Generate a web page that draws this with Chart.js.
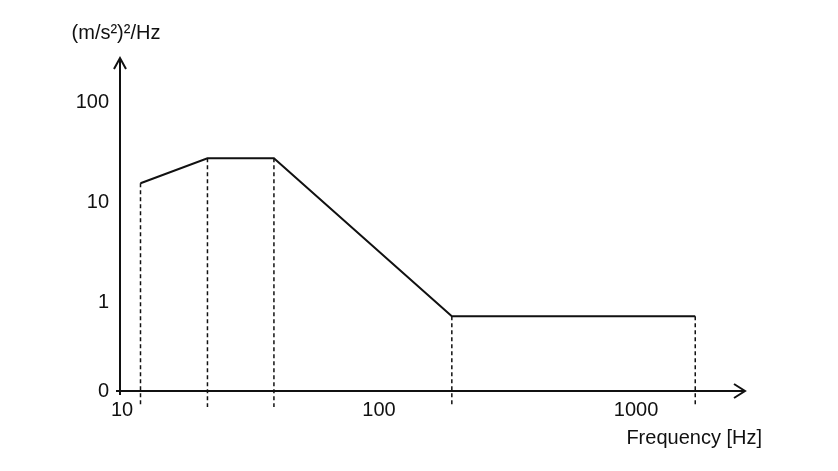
<!DOCTYPE html>
<html>
<head>
<meta charset="utf-8">
<script src="https://cdn.jsdelivr.net/npm/chart.js@4"></script>
<style>
  html, body { margin: 0; padding: 0; background: #fff; }
  canvas { display: block; }
</style>
</head>
<body>
<canvas id="psdChart" width="838" height="471"></canvas>
<script>
// --- data ---
const freqs = [11.8, 21.5, 39, 192, 1700];       // Hz, breakpoints
const psd = [15.4, 27.4, 27.4, 0.72, 0.72];      // (m/s²)²/Hz
const xTicks = [10, 100, 1000];
const yTicks = [1, 10, 100];
const yAxisLabel = '(m/s²)²/Hz';
const xAxisLabel = 'Frequency [Hz]';

const X_MIN = 9.82, X_MAX = 2655;
const Y_MIN = 0.129, Y_MAX = 263;
const DASH_FLOOR = 0.089; // where the dashed drop lines stop (a bit under the axis)

const FONT = "'Liberation Sans', Arial, sans-serif";
const INK = '#111';

const profile = freqs.map((f, i) => ({ x: f, y: psd[i] }));
const drops = [];
freqs.forEach((f, i) => {
    drops.push({ x: f, y: psd[i] }, { x: f, y: DASH_FLOOR }, { x: f, y: null });
});

// axes with open arrowheads + the two free texts
const axesPlugin = {
    id: 'axesArrows',
    afterDraw(chart) {
        const c = chart.ctx;
        const a = chart.chartArea;
        c.save();
        c.strokeStyle = INK;
        c.lineWidth = 2;
        c.beginPath();
        // y axis
        c.moveTo(a.left, a.bottom + 4);
        c.lineTo(a.left, a.top - 2);
        c.moveTo(a.left - 6, a.top + 9);
        c.lineTo(a.left, a.top - 2);
        c.lineTo(a.left + 6, a.top + 9);
        // x axis
        c.moveTo(a.left - 4, a.bottom);
        c.lineTo(a.right, a.bottom);
        c.moveTo(a.right - 11, a.bottom - 7);
        c.lineTo(a.right, a.bottom);
        c.lineTo(a.right - 11, a.bottom + 7);
        c.stroke();

        c.fillStyle = INK;
        c.font = '20px ' + FONT;
        c.textBaseline = 'alphabetic';
        c.textAlign = 'center';
        c.fillText(yAxisLabel, 116, 39);
        c.textAlign = 'right';
        c.fillText(xAxisLabel, 762, 444);
        c.restore();
    }
};

const ctx = document.getElementById('psdChart').getContext('2d');
const chart = new Chart(ctx, {
    type: 'line',
    data: {
        datasets: [
            {
                label: 'PSD',
                data: profile,
                borderColor: INK,
                borderWidth: 2,
                pointRadius: 0,
                tension: 0,
                fill: false
            },
            {
                label: 'drops',
                data: drops,
                borderColor: INK,
                borderWidth: 1.5,
                borderDash: [4, 3],
                pointRadius: 0,
                spanGaps: false,
                clip: false,
                fill: false
            }
        ]
    },
    options: {
        responsive: false,
        animation: false,
        layout: { padding: { left: 0, right: 93, top: 60, bottom: 0 } },
        plugins: {
            legend: { display: false },
            tooltip: { enabled: false }
        },
        scales: {
            x: {
                type: 'logarithmic',
                min: X_MIN,
                max: X_MAX,
                grid: { display: false, drawTicks: false },
                border: { display: false },
                afterBuildTicks: s => { s.ticks = xTicks.map(v => ({ value: v })); },
                afterFit: s => { s.height = 80; },
                ticks: {
                    autoSkip: false,
                    maxRotation: 0,
                    padding: 7,
                    color: INK,
                    font: { family: FONT, size: 20 },
                    callback: v => String(v)
                }
            },
            y: {
                type: 'logarithmic',
                min: Y_MIN,
                max: Y_MAX,
                grid: { display: false, drawTicks: false },
                border: { display: false },
                afterBuildTicks: s => {
                    s.ticks = [{ value: Y_MIN }].concat(yTicks.map(v => ({ value: v })));
                },
                afterFit: s => { s.width = 120; },
                ticks: {
                    autoSkip: false,
                    padding: 11,
                    color: INK,
                    font: { family: FONT, size: 20 },
                    callback: v => (v === Y_MIN ? '0' : String(v))
                }
            }
        }
    },
    plugins: [axesPlugin]
});
</script>
</body>
</html>
